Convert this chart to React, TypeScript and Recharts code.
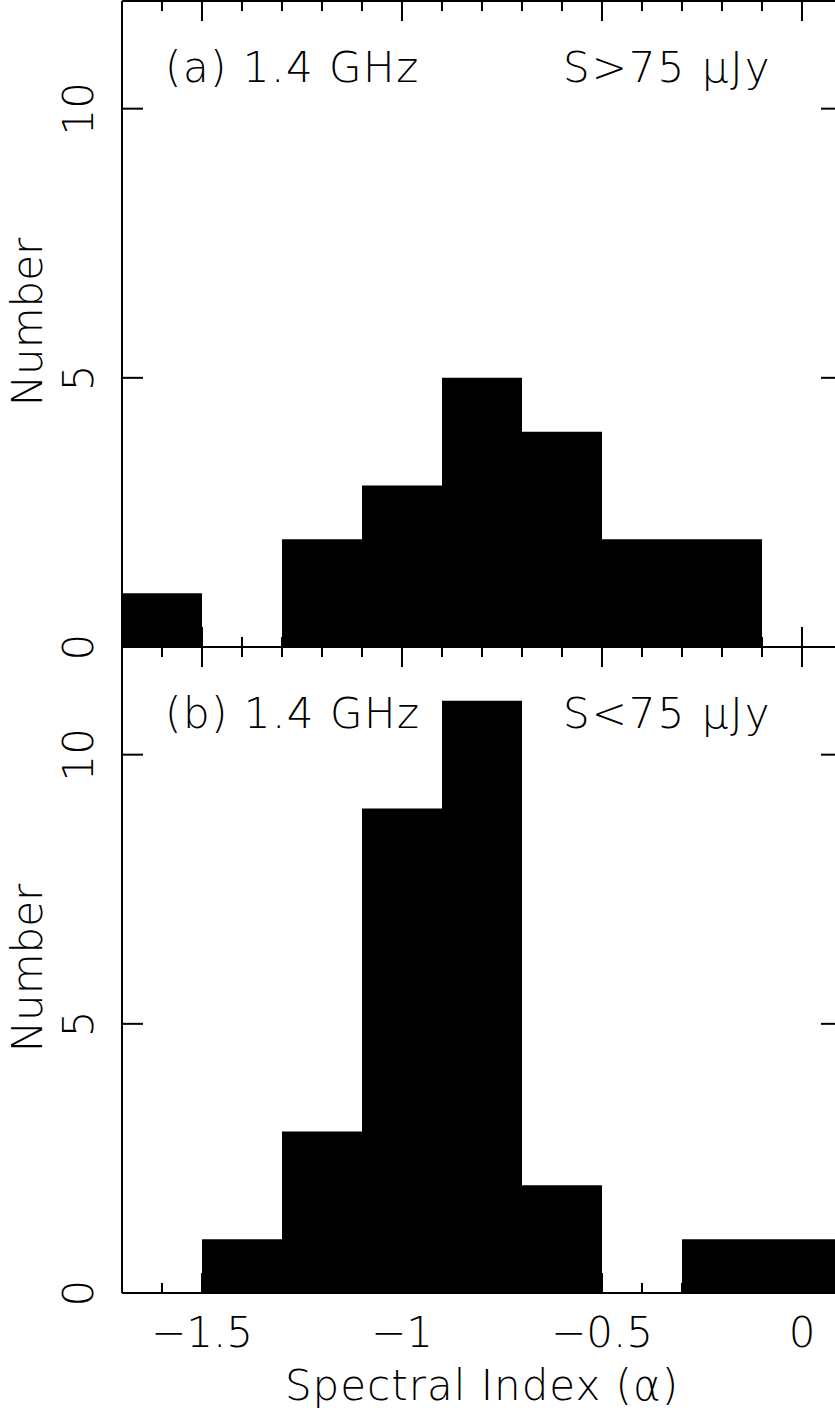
import React from 'react';
import { BarChart, Bar, XAxis, YAxis } from 'recharts';

// ---- data ----
const binCenters = [-1.6, -1.4, -1.2, -1.0, -0.8, -0.6, -0.4, -0.2, 0.0];
const countsBright = [1, 0, 2, 3, 5, 4, 2, 2, 0];
const countsFaint = [0, 1, 3, 9, 11, 2, 0, 1, 1];
const xTicks = [-1.7, -1.6, -1.5, -1.4, -1.3, -1.2, -1.1, -1.0, -0.9, -0.8, -0.7, -0.6, -0.5, -0.4, -0.3, -0.2, -0.1, 0.0, 0.1];
const yTicks = [0, 5, 10];
const xDomain = [-1.7, 0.1];
const yDomain = [0, 12];
const panelTitles = ['(a) 1.4 GHz', '(b) 1.4 GHz'];
const fluxCuts = ['S>75 ', 'S<75 '];
const fluxUnit = '\u03bcJy';
const xTitle = 'Spectral Index (\u03b1)';
const yTitle = 'Number';

const brightData = binCenters.map((x, i) => ({ x, n: countsBright[i] }));
const faintData = binCenters.map((x, i) => ({ x, n: countsFaint[i] }));

const FONT = "'DejaVu Sans', 'Liberation Sans', sans-serif";
const FW = 200;
const FS = 42;
const INK = '#000';

const isMajor = (v: number) => Math.abs(v * 2 - Math.round(v * 2)) < 1e-6;
const fmt = (v: number) => (Math.abs(v) < 1e-9 ? '0' : (v < 0 ? '\u2212' : '') + String(Math.abs(v)));

const xTick = (side: 'top' | 'bottom', showLabel: boolean) => (props: any) => {
  const { x, y, payload } = props;
  const v = payload.value as number;
  const major = isMajor(v);
  const len = major ? 20 : 10;
  const dir = side === 'bottom' ? -1 : 1;
  return (
    <g>
      <line x1={x} x2={x} y1={y} y2={y + dir * len} stroke={INK} strokeWidth={2} />
      {showLabel && major && (
        <text x={x} y={y + 54} textAnchor="middle" fontFamily={FONT} fontWeight={FW} fontSize={FS} fill={INK}>
          {fmt(v)}
        </text>
      )}
    </g>
  );
};

const yTick = (side: 'left' | 'right') => (props: any) => {
  const { x, y, payload } = props;
  const v = payload.value as number;
  const dir = side === 'left' ? 1 : -1;
  const bx = x - 29;
  return (
    <g>
      <line x1={x} x2={x + dir * 21} y1={y} y2={y} stroke={INK} strokeWidth={2} />
      {side === 'left' && (
        <text
          x={bx}
          y={y}
          transform={`rotate(-90, ${bx}, ${y})`}
          textAnchor="middle"
          fontFamily={FONT}
          fontWeight={FW}
          fontSize={FS}
          fill={INK}
        >
          {fmt(v)}
        </text>
      )}
    </g>
  );
};

const axisLineStyle = { stroke: INK, strokeWidth: 2 };

function Panel(props: { data: any[]; top: number; height: number; mt: number; mb: number; showXLabels: boolean }) {
  const { data, top, height, mt, mb, showXLabels } = props;
  return (
    <div style={{ position: 'absolute', left: 0, top }}>
      <BarChart
        width={850}
        height={height}
        data={data}
        margin={{ top: mt - 1, right: 7, bottom: mb - 1, left: 121 }}
        barCategoryGap={0}
        barGap={0}
      >
        <XAxis
          xAxisId="b"
          dataKey="x"
          type="number"
          domain={xDomain}
          ticks={xTicks}
          interval={0}
          orientation="bottom"
          height={1}
          tickSize={0}
          tickMargin={0}
          axisLine={axisLineStyle}
          tick={xTick('bottom', showXLabels)}
          allowDataOverflow
        />
        <XAxis
          xAxisId="t"
          dataKey="x"
          type="number"
          domain={xDomain}
          ticks={xTicks}
          interval={0}
          orientation="top"
          height={1}
          tickSize={0}
          tickMargin={0}
          axisLine={axisLineStyle}
          tick={xTick('top', false)}
          allowDataOverflow
        />
        <YAxis
          yAxisId="l"
          type="number"
          domain={yDomain}
          ticks={yTicks}
          interval={0}
          orientation="left"
          width={1}
          tickSize={0}
          tickMargin={0}
          axisLine={axisLineStyle}
          tick={yTick('left')}
          allowDataOverflow
        />
        <YAxis
          yAxisId="r"
          type="number"
          domain={yDomain}
          ticks={yTicks}
          interval={0}
          orientation="right"
          width={1}
          tickSize={0}
          tickMargin={0}
          axisLine={axisLineStyle}
          tick={yTick('right')}
          allowDataOverflow
        />
        <Bar dataKey="n" xAxisId="b" yAxisId="l" fill={INK} isAnimationActive={false} />
      </BarChart>
    </div>
  );
}

const textProps = { fontFamily: FONT, fontWeight: FW, fontSize: FS, fill: INK } as const;

export default function App() {
  const panelTops = [0, 646];
  return (
    <div style={{ position: 'absolute', left: 0, top: 0, width: 835, height: 1414, overflow: 'hidden', background: '#fff' }}>
      <Panel data={brightData} top={0} height={660} mt={1} mb={13} showXLabels={false} />
      <Panel data={faintData} top={640} height={774} mt={7} mb={121} showXLabels={true} />
      <svg width={835} height={1414} style={{ position: 'absolute', left: 0, top: 0, pointerEvents: 'none' }}>
        {panelTops.map((t, i) => (
          <g key={i}>
            <text x={165} y={82 + t} {...textProps} letterSpacing={1.5}>
              {panelTitles[i]}
            </text>
            <text x={563} y={82 + t} {...textProps} letterSpacing={2}>
              {fluxCuts[i] + fluxUnit}
            </text>
            <text
              x={42}
              y={322 + t}
              transform={`rotate(-90, 42, ${322 + t})`}
              textAnchor="middle"
              {...textProps}
            >
              {yTitle}
            </text>
          </g>
        ))}
        <text x={482} y={1400} textAnchor="middle" letterSpacing={1} {...textProps}>
          {xTitle}
        </text>
      </svg>
    </div>
  );
}
